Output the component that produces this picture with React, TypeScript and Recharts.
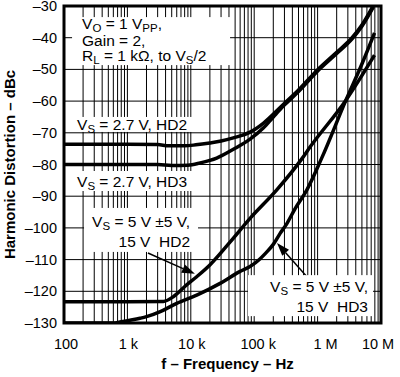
import {
  LineChart,
  Line,
  XAxis,
  YAxis,
  CartesianGrid,
  ReferenceArea,
  ReferenceDot,
  ReferenceLine,
  Label,
} from 'recharts';

const FONT = '"Liberation Sans", Arial, Helvetica, sans-serif';

// Values: frequency (Hz) and level (dBc)
const HD2_27_F = [100, 1000, 3000, 4500, 8000, 12000, 20000, 30000, 46900, 86000, 139000, 290000, 500000, 968000, 2000000, 3500000, 5000000, 7500000];
const HD2_27_DB = [-73.6, -73.6, -73.7, -74.1, -74.1, -73.8, -73.2, -72.6, -71.6, -69.8, -67.0, -61.0, -56.5, -50.4, -44.6, -40, -36, -30];

const HD3_27_F = [100, 1000, 3000, 5000, 9000, 14000, 25600, 46900, 86000, 139000, 200000, 290000, 500000, 968000, 2000000, 3500000, 5000000, 7600000];
const HD3_27_DB = [-80, -80, -80, -80.3, -80.2, -79.5, -78, -75.2, -72, -68.5, -65, -61.5, -57, -50.8, -45, -40.4, -36.4, -30.3];

const HD2_5_F = [100, 1000, 3700, 5300, 8600, 12400, 20000, 41500, 86000, 227000, 560000, 760000, 2800000, 7900000];
const HD2_5_DB = [-123.3, -123.3, -123.2, -121.7, -118, -115.4, -111.7, -104.5, -97, -88, -78.3, -74.5, -59.7, -45.5];

const HD3_5_F = [100, 600, 760, 1200, 1580, 2000, 3300, 6000, 12400, 29000, 59000, 86000, 123000, 148000, 200000, 255000, 324000, 440000, 678000, 1160000, 2800000, 5000000, 7900000];
const HD3_5_DB = [-130, -130, -129.7, -129, -128.5, -128, -126.4, -123.8, -121.2, -117.5, -113.8, -112.2, -109.8, -108.2, -105.2, -101.8, -98.8, -94.0, -88, -78, -59.7, -48.3, -38.5];

const X_TICKS = [100, 1e3, 1e4, 1e5, 1e6, 1e7];
const X_TICK_LABELS = ['100', '1 k', '10 k', '100 k', '1 M', '10 M'];
const X_TICK_NUDGE = [2, 1, 1, 4, 8, -3];
const Y_TICKS = [-130, -120, -110, -100, -90, -80, -70, -60, -50, -40, -30];

const toPoints = (f: number[], db: number[]) => f.map((v, i) => ({ f: v, db: db[i] }));

const SERIES = [
  toPoints(HD2_27_F, HD2_27_DB),
  toPoints(HD3_27_F, HD3_27_DB),
  toPoints(HD2_5_F, HD2_5_DB),
  toPoints(HD3_5_F, HD3_5_DB),
];

// log grid: 1..9 within each decade
const GRID_F: number[] = [];
for (let d = 100; d < 1e7; d *= 10) {
  for (let k = 1; k < 10; k++) GRID_F.push(d * k);
}
GRID_F.push(1e7);

type Piece = [string, boolean?];

const SP2 = '\u00a0\u00a0';

// text boxes, anchored at their top-left corner (data coords)
const NOTES: { f: number; db: number; w: number; h: number; anchor: 'start' | 'end'; tx: number; rows: [number, Piece[]][] }[] = [
  {
    f: 134, db: -33.5, w: 158, h: 48, anchor: 'start', tx: 10,
    rows: [
      [12, [['V'], ['O', true], [' = 1 V'], ['PP', true], [',']]],
      [29, [['Gain = 2,']]],
      [44, [['R'], ['L', true], [' = 1 kΩ, to V'], ['S', true], ['/2']]],
    ],
  },
  {
    f: 144, db: -65.0, w: 118, h: 15, anchor: 'start', tx: 3,
    rows: [[13, [['V'], ['S', true], [' = 2.7 V, HD2']]]],
  },
  {
    f: 144, db: -82.05, w: 118, h: 20, anchor: 'start', tx: 3,
    rows: [[16, [['V'], ['S', true], [' = 2.7 V, HD3']]]],
  },
  {
    f: 207, db: -93.7, w: 114, h: 44, anchor: 'end', tx: 106,
    rows: [
      [19, [['V'], ['S', true], [' = 5 V ±5 V,']]],
      [39, [[`15 V${SP2}HD2`]]],
    ],
  },
  {
    f: 79800, db: -114.9, w: 125, h: 41, anchor: 'end', tx: 120,
    rows: [
      [17, [['V'], ['S', true], [' = 5 V ±5 V,']]],
      [37, [[`15 V${SP2}HD3`]]],
    ],
  },
];

const ARROWS = [
  { from: { x: 2110, y: -107.9 }, to: { x: 11600, y: -114.5 } },
  { from: { x: 706000, y: -115.8 }, to: { x: 229000, y: -104.8 } },
];

const renderPieces = (pieces: Piece[]) => {
  let down = false;
  return pieces.map(([t, sub], i) => {
    let dy = 0;
    if (sub && !down) { dy = 3; down = true; }
    else if (!sub && down) { dy = -3; down = false; }
    return (
      <tspan key={i} dy={dy} fontSize={sub ? 11.5 : 15.5}>{t}</tspan>
    );
  });
};

const noteShape = (note: (typeof NOTES)[number]) => (p: any) => {
  const { cx, cy } = p;
  if (cx == null || cy == null) return <g />;
  return (
    <g>
      <rect x={cx} y={cy} width={note.w} height={note.h} fill="#fff" />
      {note.rows.map(([by, pieces], i) => (
        <text key={i} x={cx + note.tx} y={cy + by} textAnchor={note.anchor} fontFamily={FONT} fontSize={15.5} fill="#000">
          {renderPieces(pieces)}
        </text>
      ))}
    </g>
  );
};

const Arrow = (p: any) => {
  const { x1, y1, x2, y2 } = p;
  if (x1 == null) return <g />;
  const a = Math.atan2(y2 - y1, x2 - x1);
  const len = 13;
  const half = 4.5;
  const bx = x2 - len * Math.cos(a);
  const by = y2 - len * Math.sin(a);
  const px = -Math.sin(a) * half;
  const py = Math.cos(a) * half;
  return (
    <g>
      <line x1={x1} y1={y1} x2={bx} y2={by} stroke="#000" strokeWidth={1.5} />
      <polygon points={`${x2},${y2} ${bx + px},${by + py} ${bx - px},${by - py}`} fill="#000" />
    </g>
  );
};

const XTick = (p: any) => {
  const { x, y, payload } = p;
  const i = X_TICKS.indexOf(payload.value);
  return (
    <text x={x + X_TICK_NUDGE[i]} y={y + 10} textAnchor="middle" fontFamily={FONT} fontSize={14.5} fill="#000">
      {X_TICK_LABELS[i]}
    </text>
  );
};

const YTick = (p: any) => {
  const { x, y, payload } = p;
  return (
    <text x={x} y={y + 5} textAnchor="end" fontFamily={FONT} fontSize={14.5} fill="#000">
      {`–${Math.abs(payload.value)}`}
    </text>
  );
};

const XTitle = (p: any) => {
  const vb = p.viewBox || {};
  return (
    <text x={vb.x + vb.width / 2 + 5} y={vb.y + 46} textAnchor="middle" fontFamily={FONT} fontSize={15} fontWeight="bold" fill="#000">
      f – Frequency – Hz
    </text>
  );
};

const YTitle = (p: any) => {
  const vb = p.viewBox || {};
  const cy = vb.y + vb.height / 2;
  return (
    <text transform={`translate(${vb.x + 15}, ${cy}) rotate(-90)`} textAnchor="middle" fontFamily={FONT} fontSize={15} fontWeight="bold" fill="#000">
      Harmonic Distortion – dBc
    </text>
  );
};

export default function App() {
  return (
    <div style={{ position: 'absolute', left: 0, top: 0, width: 400, height: 377, background: '#fff' }}>
      <LineChart width={400} height={377} margin={{ top: 6, right: 19, bottom: 0, left: 0 }}>
        <CartesianGrid stroke="#000" strokeWidth={1} verticalValues={GRID_F} horizontalValues={Y_TICKS} />
        <XAxis
          dataKey="f"
          type="number"
          scale="log"
          domain={[100, 1e7]}
          ticks={X_TICKS}
          interval={0}
          allowDataOverflow
          height={54}
          axisLine={false}
          tickLine={false}
          tickSize={0}
          tickMargin={16}
          tick={<XTick />}
        >
          <Label content={<XTitle />} />
        </XAxis>
        <YAxis
          type="number"
          domain={[-130, -30]}
          ticks={Y_TICKS}
          interval={0}
          allowDataOverflow
          width={64}
          axisLine={false}
          tickLine={false}
          tickSize={0}
          tickMargin={7}
          tick={<YTick />}
        >
          <Label content={<YTitle />} />
        </YAxis>
        {NOTES.map((n, i) => (
          <ReferenceDot key={`n${i}`} x={n.f} y={n.db} r={0} ifOverflow="visible" shape={noteShape(n)} />
        ))}
        {ARROWS.map((a, i) => (
          <ReferenceLine key={`a${i}`} segment={[a.from, a.to]} ifOverflow="visible" shape={Arrow} />
        ))}
        {SERIES.map((d, i) => (
          <Line
            key={i}
            data={d}
            dataKey="db"
            type="monotone"
            stroke="#000"
            strokeWidth={3.5}
            dot={false}
            isAnimationActive={false}
          />
        ))}
        <ReferenceArea x1={100} x2={1e7} y1={-130} y2={-30} fill="none" stroke="#000" strokeWidth={3} ifOverflow="visible" />
      </LineChart>
    </div>
  );
}
